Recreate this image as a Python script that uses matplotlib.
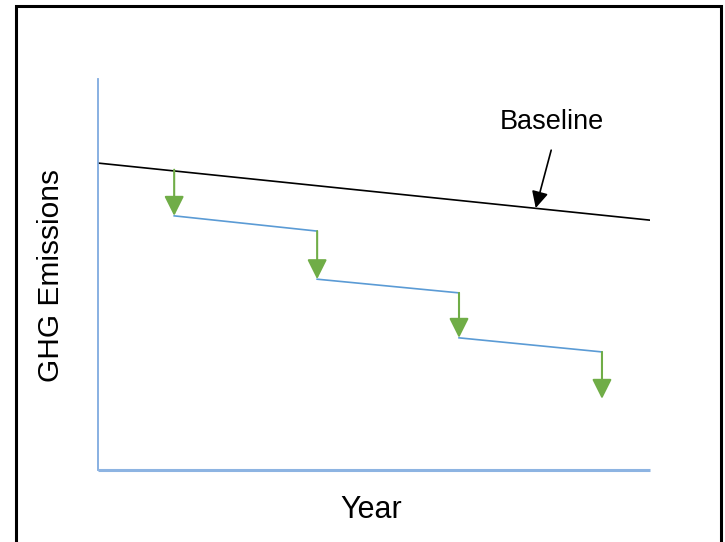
import matplotlib.pyplot as plt
from matplotlib.patches import Rectangle

# baseline emissions (straight line) and the stepped reduction path
baseline_x = [0, 100]
baseline_y = [78.5, 63.9]

step_x = [13.8, 39.7, 65.4, 91.3]
step_top = [76.8, 61.1, 45.3, 30.2]
step_bottom = [65.0, 48.8, 33.8, 18.2]

blue = '#5B9BD5'
green = '#70AD47'

plt.rcParams['font.family'] = ['Liberation Sans', 'DejaVu Sans']

fig = plt.figure(figsize=(7.25, 5.42), dpi=100)
fig.patches.append(Rectangle((16 / 725, -0.01), 705 / 725, 0.999, transform=fig.transFigure,
                             fill=False, edgecolor='black', linewidth=2.2))

ax = fig.add_axes([98 / 725, 72 / 542, 552 / 725, 391 / 542])
ax.set_xlim(0, 100)
ax.set_ylim(0, 100)
ax.set_xticks([])
ax.set_yticks([])
for side in ['top', 'right']:
    ax.spines[side].set_visible(False)
ax.spines['left'].set_color('#7FAADF')
ax.spines['left'].set_linewidth(1.3)
ax.spines['bottom'].set_color('#8DB4E2')
ax.spines['bottom'].set_linewidth(2.2)
ax.spines['bottom'].set_capstyle('butt')

# baseline
ax.plot(baseline_x, baseline_y, color='black', lw=1.2)

# blue segments between the drops
for i in range(len(step_x) - 1):
    ax.plot([step_x[i], step_x[i + 1]], [step_bottom[i], step_top[i + 1]], color=blue, lw=1.2)

# green drop arrows
for x, top, bot in zip(step_x, step_top, step_bottom):
    ax.annotate('', xy=(x, bot), xytext=(x, top),
                arrowprops=dict(arrowstyle='-|>,head_length=1.2,head_width=0.6',
                                color=green, lw=1.5, shrinkA=0, shrinkB=0, mutation_scale=10))

# baseline label
ax.text(82.2, 89.0, 'Baseline', fontsize=19.5, ha='center', va='center')
ax.annotate('', xy=(79.3, 67.0), xytext=(82.1, 81.8),
            arrowprops=dict(arrowstyle='-|>,head_length=1.0,head_width=0.5',
                            color='black', lw=1.2, shrinkA=0, shrinkB=0, mutation_scale=10))

fig.text(371 / 725, 1 - 510 / 542, 'Year', fontsize=22, ha='center', va='center')
fig.text(51 / 725, 1 - 275 / 542, 'GHG Emissions', fontsize=21.5, ha='center', va='center',
         rotation=90)

fig.savefig('out.png', dpi=100)
